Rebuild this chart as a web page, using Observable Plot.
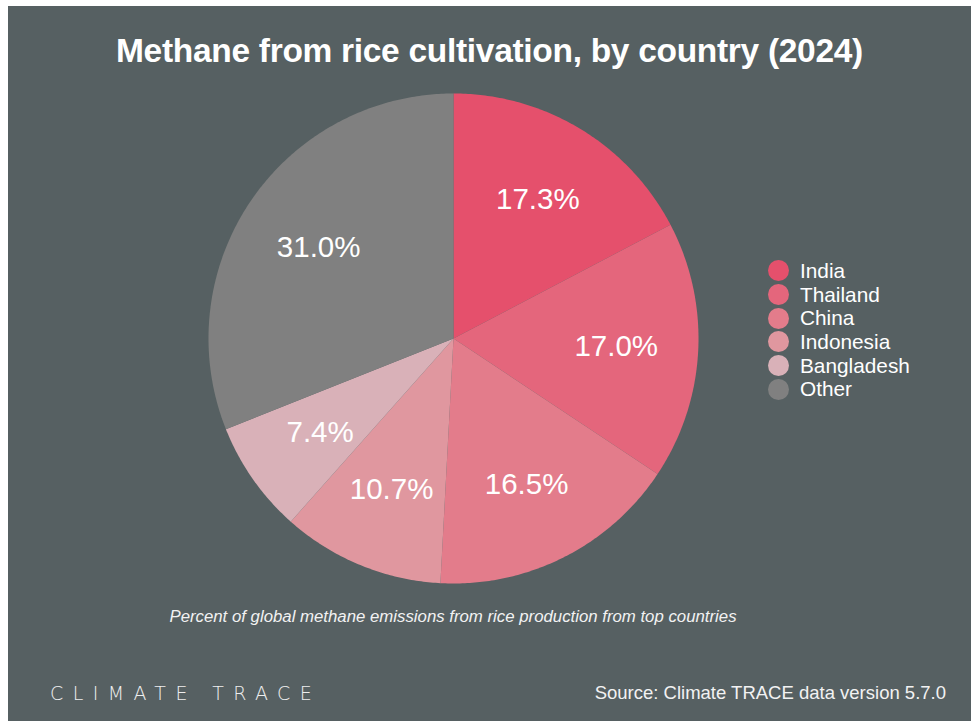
<!DOCTYPE html>
<html>
<head>
<meta charset="utf-8">
<script src="https://cdn.jsdelivr.net/npm/d3@7"></script>
<script src="https://cdn.jsdelivr.net/npm/@observablehq/plot@0.6"></script>
<style>
  html, body { margin: 0; padding: 0; background: #ffffff; }
  body { width: 971px; height: 721px; position: relative; overflow: hidden;
         font-family: "Liberation Sans", Arial, Helvetica, sans-serif; }
  #card { position: absolute; left: 8px; top: 6px; width: 963px; height: 715px; background: #566062; }
  #title { position: absolute; left: 0; width: 963px; top: 26px; text-align: center;
           color: #ffffff; font-weight: bold; font-size: 33.5px; letter-spacing: -0.3px; }
  #chart { position: absolute; left: 0; top: 80px; }
  #legend { position: absolute; left: 760px; top: 253px; color: #ffffff; font-size: 20.8px; }
  .row { display: flex; align-items: center; height: 23.7px; }
  .sw { width: 21px; height: 21px; border-radius: 50%; margin-right: 11px; }
  #caption { position: absolute; left: 0; width: 890px; top: 601px; text-align: center;
             color: #f2f2f2; font-style: italic; font-size: 16.8px; }
  #brand { position: absolute; left: 42px; top: 676px; color: #eeeeee; font-size: 19px;
           letter-spacing: 9.4px; font-family: "DejaVu Sans", sans-serif; font-weight: 300; }
  #source { position: absolute; right: 25px; top: 676px; color: #f2f2f2; font-size: 18.5px; }
</style>
</head>
<body>
<div id="card">
  <div id="title">Methane from rice cultivation, by country (2024)</div>
  <div id="chart"></div>
  <div id="legend"></div>
  <div id="caption">Percent of global methane emissions from rice production from top countries</div>
  <div id="brand">CLIMATE TRACE</div>
  <div id="source">Source: Climate TRACE data version 5.7.0</div>
</div>
<script>
const countries = ["India", "Thailand", "China", "Indonesia", "Bangladesh", "Other"];
const shares = [17.3, 17.0, 16.5, 10.7, 7.4, 31.0];
const colors = ["#e5506c", "#e4667c", "#e37c8b", "#e0979f", "#d9b1b8", "#808080"];

// Build slice outlines in unit-circle data coordinates from the shares
const arcs = d3.pie().sort(null).value(d => d.share)(countries.map((c, i) => ({country: c, share: shares[i]})));
const outline = [];
const labels = [];
for (const a of arcs) {
  const c = a.data.country;
  outline.push({country: c, x: 0, y: 0});
  const n = Math.max(2, Math.ceil((a.endAngle - a.startAngle) / 0.01));
  for (let k = 0; k <= n; k++) {
    const t = a.startAngle + (a.endAngle - a.startAngle) * k / n;
    outline.push({country: c, x: Math.sin(t), y: Math.cos(t)});
  }
  outline.push({country: c, x: 0, y: 0});
  const m = (a.startAngle + a.endAngle) / 2;
  labels.push({country: c, x: 0.665 * Math.sin(m), y: 0.665 * Math.cos(m),
               text: a.data.share.toFixed(1) + "%"});
}

const R = 245, cx = 445, cy = 252;
const chart = Plot.plot({
  width: 963,
  height: 510,
  margin: 0,
  style: {background: "transparent", overflow: "visible"},
  x: {domain: [-1, 1], range: [cx - R, cx + R], axis: null},
  y: {domain: [-1, 1], range: [cy + R, cy - R], axis: null},
  color: {domain: countries, range: colors},
  marks: [
    Plot.line(outline, {x: "x", y: "y", z: "country", fill: "country", stroke: "none", curve: "linear"}),
    Plot.text(labels, {x: "x", y: "y", text: "text", fill: "#ffffff", fontSize: 29.5,
                       fontFamily: "Liberation Sans, Arial, sans-serif"})
  ]
});
document.getElementById("chart").appendChild(chart);

const legend = document.getElementById("legend");
countries.forEach((c, i) => {
  const row = document.createElement("div");
  row.className = "row";
  const sw = document.createElement("span");
  sw.className = "sw";
  sw.style.background = colors[i];
  const lab = document.createElement("span");
  lab.textContent = c;
  row.appendChild(sw);
  row.appendChild(lab);
  legend.appendChild(row);
});
</script>
</body>
</html>
